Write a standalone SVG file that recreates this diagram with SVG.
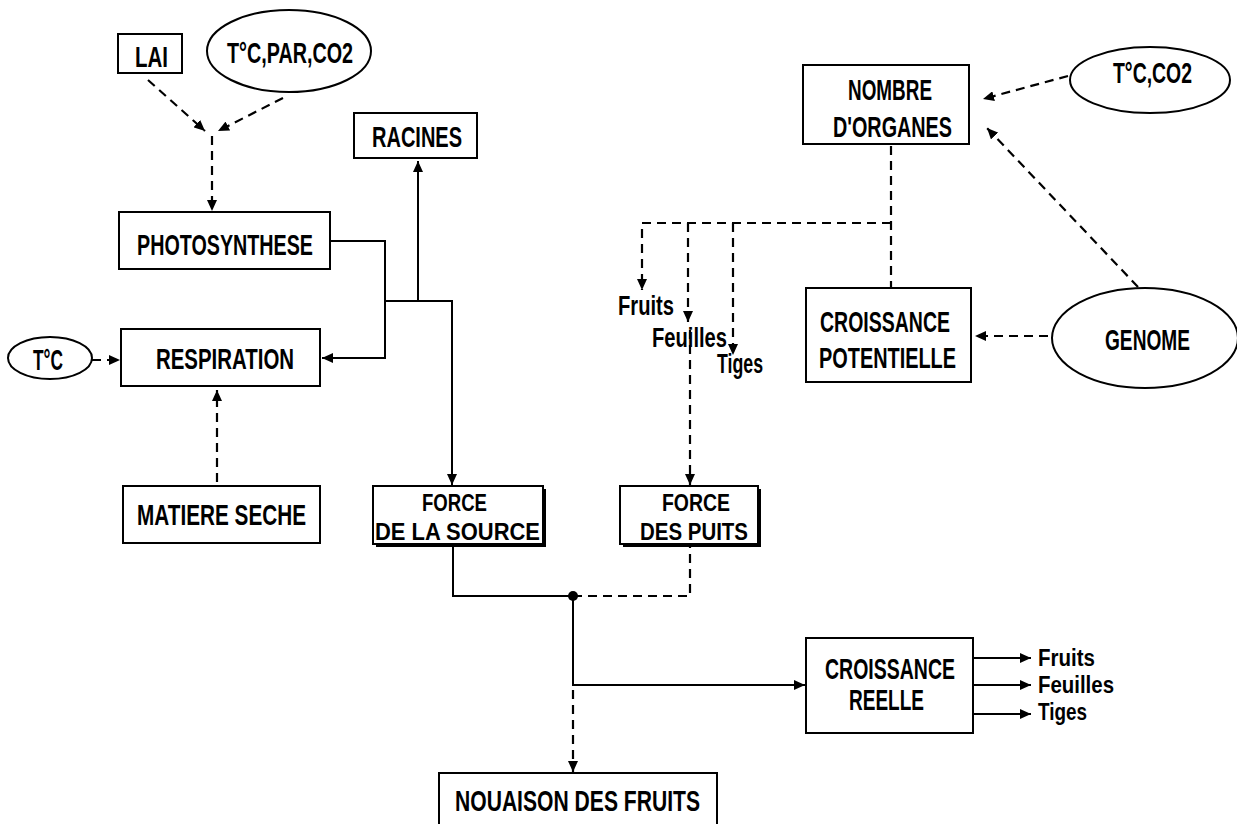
<svg xmlns="http://www.w3.org/2000/svg" width="1237" height="824" viewBox="0 0 1237 824">
<style>
.box{fill:#fff;stroke:#000;stroke-width:2}
.ell{fill:#fff;stroke:#000;stroke-width:2}
.t{font-family:"Liberation Sans Narrow","Liberation Sans",Arial,sans-serif;font-weight:bold;font-size:30px;fill:#000}
.f{font-family:"Liberation Sans Narrow","Liberation Sans",Arial,sans-serif;font-weight:bold;font-size:24px;fill:#000}
.s{font-family:"Liberation Sans Narrow","Liberation Sans",Arial,sans-serif;font-weight:bold;font-size:27px;fill:#000}
.r{font-family:"Liberation Sans Narrow","Liberation Sans",Arial,sans-serif;font-weight:bold;font-size:24px;fill:#000}
.ln{fill:none;stroke:#000;stroke-width:2}
.da{fill:none;stroke:#000;stroke-width:2.2;stroke-dasharray:9 6}
</style>
<defs>
<marker id="ah" markerUnits="userSpaceOnUse" markerWidth="12" markerHeight="10" refX="11" refY="5" orient="auto">
<path d="M0,0 L11,5 L0,10 z" fill="#000"/>
</marker>
</defs>
<rect width="1237" height="824" fill="#fff"/>

<g id="connectors">
<path class="da" d="M148,80 L205,131" marker-end="url(#ah)"/>
<path class="da" d="M283,98 L218,131" marker-end="url(#ah)"/>
<path class="da" d="M212,136 L212,211" marker-end="url(#ah)"/>
<path class="ln" d="M330,241 L385,241 L385,358 L322,358" marker-end="url(#ah)"/>
<path class="ln" d="M385,301 L452,301 L452,485" marker-end="url(#ah)"/>
<path class="ln" d="M418,301 L418,161" marker-end="url(#ah)"/>
<path class="da" d="M92,360 L120,360" marker-end="url(#ah)"/>
<path class="da" d="M217,482 L217,390" marker-end="url(#ah)"/>
<path class="da" d="M891,146 L891,288"/>
<path class="da" d="M891,223 L642,223 L642,290" marker-end="url(#ah)"/>
<path class="da" d="M688,223 L688,322" marker-end="url(#ah)"/>
<path class="da" d="M733,223 L733,355" marker-end="url(#ah)"/>
<path class="da" d="M690,330 L690,485" marker-end="url(#ah)"/>
<path class="da" d="M1068,76 L983,99" marker-end="url(#ah)"/>
<path class="da" d="M1138,287 L987,128" marker-end="url(#ah)"/>
<path class="da" d="M1048,336 L975,336" marker-end="url(#ah)"/>
<path class="ln" d="M453,547 L453,596 L573,596"/>
<path class="da" d="M573,596 L690,596 L690,547"/>
<circle cx="573" cy="596" r="5" fill="#000"/>
<path class="ln" d="M573,596 L573,685 L805,685" marker-end="url(#ah)"/>
<path class="da" d="M573,690 L573,772" marker-end="url(#ah)"/>
<path class="ln" d="M973,658 L1031,658" marker-end="url(#ah)"/>
<path class="ln" d="M973,685 L1031,685" marker-end="url(#ah)"/>
<path class="ln" d="M973,714 L1031,714" marker-end="url(#ah)"/>
</g>

<g id="lai"><rect class="box" x="118" y="34" width="64" height="39"/><text class="t" x="135" y="67" textLength="33" lengthAdjust="spacingAndGlyphs">LAI</text></g>
<g id="env1"><ellipse class="ell" cx="289" cy="51" rx="82" ry="41"/><text class="t" x="227" y="63" textLength="126" lengthAdjust="spacingAndGlyphs">T°C,PAR,CO2</text></g>
<g id="photosynthese"><rect class="box" x="119" y="212" width="211" height="57"/><text class="t" x="137" y="255" textLength="176" lengthAdjust="spacingAndGlyphs">PHOTOSYNTHESE</text></g>
<g id="racines"><rect class="box" x="354" y="113" width="123" height="45"/><text class="t" x="372" y="147" textLength="90" lengthAdjust="spacingAndGlyphs">RACINES</text></g>
<g id="temp"><ellipse class="ell" cx="50" cy="358" rx="42" ry="21"/><text class="t" x="33" y="370" textLength="30" lengthAdjust="spacingAndGlyphs">T°C</text></g>
<g id="respiration"><rect class="box" x="121" y="329" width="199" height="57"/><text class="t" x="156" y="369" textLength="138" lengthAdjust="spacingAndGlyphs">RESPIRATION</text></g>
<g id="matiere"><rect class="box" x="123" y="486" width="197" height="57"/><text class="t" x="137" y="525" textLength="169" lengthAdjust="spacingAndGlyphs">MATIERE SECHE</text></g>
<g id="source"><rect x="376" y="489" width="170" height="58" fill="#000"/><rect class="box" x="373" y="486" width="170" height="58"/><text class="f" x="422" y="511" textLength="65" lengthAdjust="spacingAndGlyphs">FORCE</text><text class="f" x="375" y="540" textLength="165" lengthAdjust="spacingAndGlyphs">DE LA SOURCE</text></g>
<g id="puits"><rect x="623" y="489" width="138" height="58" fill="#000"/><rect class="box" x="620" y="486" width="138" height="58"/><text class="f" x="662" y="511" textLength="68" lengthAdjust="spacingAndGlyphs">FORCE</text><text class="f" x="640" y="540" textLength="108" lengthAdjust="spacingAndGlyphs">DES PUITS</text></g>
<g id="organes-labels"><text class="s" x="618" y="315" textLength="56" lengthAdjust="spacingAndGlyphs">Fruits</text><text class="s" x="652" y="347" textLength="75" lengthAdjust="spacingAndGlyphs">Feuilles</text><text class="s" x="717" y="373" textLength="46" lengthAdjust="spacingAndGlyphs">Tiges</text></g>
<g id="nombre"><rect class="box" x="803" y="65" width="166" height="79"/><text class="t" x="848" y="100" textLength="84" lengthAdjust="spacingAndGlyphs">NOMBRE</text><text class="t" x="833" y="137" textLength="119" lengthAdjust="spacingAndGlyphs">D'ORGANES</text></g>
<g id="env2"><ellipse class="ell" cx="1150" cy="80" rx="80" ry="33"/><text class="t" x="1113" y="83" textLength="79" lengthAdjust="spacingAndGlyphs">T°C,CO2</text></g>
<g id="potentielle"><rect class="box" x="806" y="288" width="165" height="94"/><text class="t" x="820" y="332" textLength="130" lengthAdjust="spacingAndGlyphs">CROISSANCE</text><text class="t" x="819" y="368" textLength="137" lengthAdjust="spacingAndGlyphs">POTENTIELLE</text></g>
<g id="genome"><ellipse class="ell" cx="1145" cy="338" rx="93" ry="50"/><text class="t" x="1105" y="350" textLength="85" lengthAdjust="spacingAndGlyphs">GENOME</text></g>
<g id="reelle"><rect class="box" x="806" y="638" width="167" height="95"/><text class="t" x="825" y="679" textLength="130" lengthAdjust="spacingAndGlyphs">CROISSANCE</text><text class="t" x="849" y="710" textLength="75" lengthAdjust="spacingAndGlyphs">REELLE</text></g>
<g id="reelle-labels"><text class="r" x="1038" y="666" textLength="57" lengthAdjust="spacingAndGlyphs">Fruits</text><text class="r" x="1038" y="693" textLength="76" lengthAdjust="spacingAndGlyphs">Feuilles</text><text class="r" x="1038" y="720" textLength="49" lengthAdjust="spacingAndGlyphs">Tiges</text></g>
<g id="nouaison"><rect class="box" x="439" y="773" width="278" height="60"/><text class="t" x="455" y="811" textLength="245" lengthAdjust="spacingAndGlyphs">NOUAISON DES FRUITS</text></g>
</svg>
